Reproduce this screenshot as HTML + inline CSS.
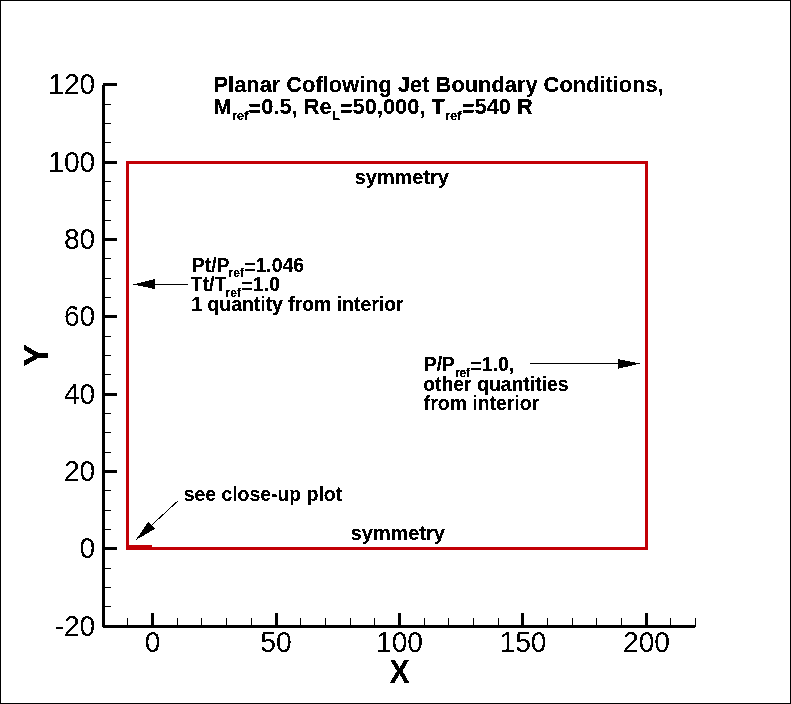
<!DOCTYPE html>
<html><head><meta charset="utf-8"><style>
html,body{margin:0;padding:0;background:#fff;}
svg{display:block;}
text{font-family:"Liberation Sans",sans-serif;fill:#000;}
.lab{font-size:28.2px;}
.ax{font-size:32.5px;font-weight:bold;}
.ay{font-size:34px;font-weight:bold;}
.ti{font-size:21.85px;font-weight:bold;}
.an{font-size:19.4px;font-weight:bold;}
.sy{font-size:19.9px;}
.sub{font-size:13.2px;}
.sub2{font-size:12px;}
.ls{letter-spacing:-0.3px;}
</style></head><body>
<svg width="791" height="704" viewBox="0 0 791 704" shape-rendering="crispEdges">
<defs><filter id="bin" x="0" y="0" width="791" height="704" filterUnits="userSpaceOnUse"><feComponentTransfer><feFuncA type="discrete" tableValues="0 0 0 0 0 0 0 0 1 1 1 1 1 1 1 1 1 1 1 1"/></feComponentTransfer></filter><filter id="bin2" x="0" y="0" width="791" height="704" filterUnits="userSpaceOnUse"><feComponentTransfer><feFuncA type="discrete" tableValues="0 0 0 0 0 0 0 0 0 0 1 1 1 1 1 1 1 1 1 1"/></feComponentTransfer></filter></defs>
<rect x="0.5" y="0.5" width="790" height="703" fill="none" stroke="#000" stroke-width="1"/>
<rect x="126" y="161" width="522" height="3" fill="#c20006"/>
<rect x="126" y="547" width="522" height="3" fill="#c20006"/>
<rect x="126" y="161" width="3" height="389" fill="#c20006"/>
<rect x="645" y="161" width="3" height="389" fill="#c20006"/>
<rect x="126" y="545" width="26" height="2" fill="#c20006"/>
<rect x="102" y="85" width="3" height="542" fill="#000"/>
<rect x="103" y="625" width="593" height="2" fill="#000"/>
<rect x="103" y="627" width="592" height="1" fill="#000"/>
<rect x="105" y="606" width="6" height="1" fill="#000"/>
<rect x="105" y="587" width="6" height="1" fill="#000"/>
<rect x="105" y="568" width="6" height="1" fill="#000"/>
<rect x="105" y="547" width="12" height="3" fill="#000"/>
<rect x="105" y="529" width="6" height="1" fill="#000"/>
<rect x="105" y="510" width="6" height="1" fill="#000"/>
<rect x="105" y="490" width="6" height="1" fill="#000"/>
<rect x="105" y="470" width="12" height="3" fill="#000"/>
<rect x="105" y="452" width="6" height="1" fill="#000"/>
<rect x="105" y="432" width="6" height="1" fill="#000"/>
<rect x="105" y="413" width="6" height="1" fill="#000"/>
<rect x="105" y="393" width="12" height="3" fill="#000"/>
<rect x="105" y="374" width="6" height="1" fill="#000"/>
<rect x="105" y="355" width="6" height="1" fill="#000"/>
<rect x="105" y="336" width="6" height="1" fill="#000"/>
<rect x="105" y="315" width="12" height="3" fill="#000"/>
<rect x="105" y="297" width="6" height="1" fill="#000"/>
<rect x="105" y="278" width="6" height="1" fill="#000"/>
<rect x="105" y="258" width="6" height="1" fill="#000"/>
<rect x="105" y="238" width="12" height="3" fill="#000"/>
<rect x="105" y="220" width="6" height="1" fill="#000"/>
<rect x="105" y="200" width="6" height="1" fill="#000"/>
<rect x="105" y="181" width="6" height="1" fill="#000"/>
<rect x="105" y="161" width="12" height="3" fill="#000"/>
<rect x="105" y="142" width="6" height="1" fill="#000"/>
<rect x="105" y="123" width="6" height="1" fill="#000"/>
<rect x="105" y="104" width="6" height="1" fill="#000"/>
<rect x="103" y="83" width="14" height="3" fill="#000"/>
<rect x="127" y="618" width="1" height="7" fill="#000"/>
<rect x="151" y="613" width="3" height="12" fill="#000"/>
<rect x="177" y="618" width="1" height="7" fill="#000"/>
<rect x="201" y="618" width="1" height="7" fill="#000"/>
<rect x="226" y="618" width="1" height="7" fill="#000"/>
<rect x="251" y="618" width="1" height="7" fill="#000"/>
<rect x="275" y="613" width="3" height="12" fill="#000"/>
<rect x="300" y="618" width="1" height="7" fill="#000"/>
<rect x="325" y="618" width="1" height="7" fill="#000"/>
<rect x="350" y="618" width="1" height="7" fill="#000"/>
<rect x="374" y="618" width="1" height="7" fill="#000"/>
<rect x="398" y="613" width="3" height="12" fill="#000"/>
<rect x="424" y="618" width="1" height="7" fill="#000"/>
<rect x="448" y="618" width="1" height="7" fill="#000"/>
<rect x="473" y="618" width="1" height="7" fill="#000"/>
<rect x="498" y="618" width="1" height="7" fill="#000"/>
<rect x="521" y="613" width="3" height="12" fill="#000"/>
<rect x="547" y="618" width="1" height="7" fill="#000"/>
<rect x="572" y="618" width="1" height="7" fill="#000"/>
<rect x="596" y="618" width="1" height="7" fill="#000"/>
<rect x="621" y="618" width="1" height="7" fill="#000"/>
<rect x="645" y="613" width="3" height="12" fill="#000"/>
<rect x="670" y="618" width="1" height="7" fill="#000"/>
<rect x="695" y="618" width="1" height="7" fill="#000"/>
<line x1="188" y1="284.2" x2="150" y2="284.2" stroke="#000" stroke-width="1.2"/>
<polygon points="133.2,284.5 154.7,279 154.7,289" fill="#000"/>
<line x1="529.9" y1="363.4" x2="622" y2="363.4" stroke="#000" stroke-width="1.2"/>
<polygon points="639.9,363.5 618.2,359.2 618.2,368.8" fill="#000"/>
<line x1="178.3" y1="500.6" x2="150" y2="526.6" stroke="#000" stroke-width="1"/>
<polygon points="135.6,540.2 148.2,521.9 155.2,528.6" fill="#000"/>
<g filter="url(#bin2)">
<text transform="translate(95.3,635.90) scale(1,1.06)" class="lab" text-anchor="end">-20</text>
<text transform="translate(95.3,557.90) scale(1,1.06)" class="lab" text-anchor="end">0</text>
<text transform="translate(95.3,480.90) scale(1,1.06)" class="lab" text-anchor="end">20</text>
<text transform="translate(95.3,403.90) scale(1,1.06)" class="lab" text-anchor="end">40</text>
<text transform="translate(95.3,325.90) scale(1,1.06)" class="lab" text-anchor="end">60</text>
<text transform="translate(95.3,248.90) scale(1,1.06)" class="lab" text-anchor="end">80</text>
<text transform="translate(95.3,171.90) scale(1,1.06)" class="lab" text-anchor="end">100</text>
<text transform="translate(95.3,93.90) scale(1,1.06)" class="lab" text-anchor="end">120</text>
<text transform="translate(152.50,652.1999999999999) scale(1,1.06)" class="lab" text-anchor="middle">0</text>
<text transform="translate(276.00,652.1999999999999) scale(1,1.06)" class="lab" text-anchor="middle">50</text>
<text transform="translate(399.50,652.1999999999999) scale(1,1.06)" class="lab" text-anchor="middle">100</text>
<text transform="translate(523.00,652.1999999999999) scale(1,1.06)" class="lab" text-anchor="middle">150</text>
<text transform="translate(646.50,652.1999999999999) scale(1,1.06)" class="lab" text-anchor="middle">200</text>
</g>
<g filter="url(#bin)">
<text transform="translate(399.5,683) scale(0.93,1.0)" class="ax" text-anchor="middle">X</text>
<text transform="translate(48,355.5) rotate(-90) scale(1,1.04)" class="ay" text-anchor="middle">Y</text>
<text x="213.5" y="91.7" class="ti">Planar Coflowing Jet Boundary Conditions,</text>
<text x="213.5" y="113.7" class="ti">M<tspan dy="5.80" class="sub">ref</tspan><tspan dy="-3.40">=</tspan><tspan dy="-2.40">0.5, Re</tspan><tspan dy="5.80" class="sub">L</tspan><tspan dy="-3.40">=</tspan><tspan dy="-2.40">50,000, T</tspan><tspan dy="5.80" class="sub">ref</tspan><tspan dy="-3.40">=</tspan><tspan dy="-2.40">540 R</tspan></text>
<text x="354.8" y="183.8" class="an sy">symmetry</text>
<text x="350.8" y="540" class="an sy">symmetry</text>
<text x="191.8" y="271.6" class="an">Pt/P<tspan dx="-1" dy="5.40" class="sub2">ref</tspan><tspan dx="0.4" dy="-3.00">=</tspan><tspan dy="-2.40">1.046</tspan></text>
<text x="190.8" y="290.8" class="an">Tt/T<tspan dx="-0.8" dy="6.50" class="sub2">ref</tspan><tspan dx="0.8" dy="-4.10">=</tspan><tspan dy="-2.40">1.0</tspan></text>
<text x="191.3" y="310.7" class="an">1 quantity from interior</text>
<text x="423.8" y="370.9" class="an">P/P<tspan dy="5.60" class="sub2 ls">ref</tspan><tspan dx="0.9" dy="-3.20">=</tspan><tspan dy="-2.40">1.0,</tspan></text>
<text x="423.2" y="390.8" class="an">other quantities</text>
<text x="423.8" y="409.6" class="an">from interior</text>
<text x="183.7" y="501.2" class="an">see close-up plot</text>
</g>
</svg>
</body></html>
